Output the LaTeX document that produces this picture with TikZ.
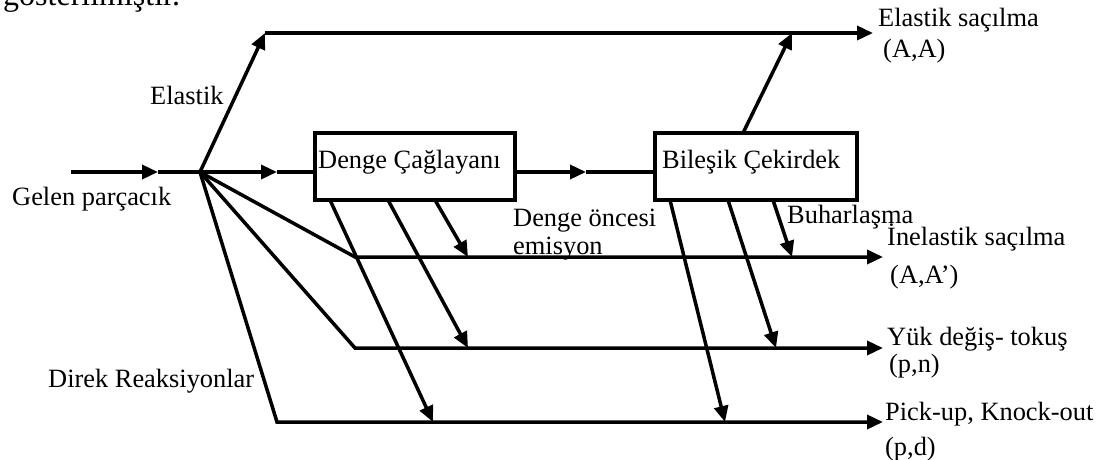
\documentclass[tikz,border=0pt]{standalone}
\usepackage{fontspec}
\setmainfont{Liberation Serif}
\usetikzlibrary{arrows.meta}
\begin{document}
\begin{tikzpicture}[x=1pt,y=-1pt,
  wire/.style={line width=3.5pt},
  arr/.style={wire,-{Triangle[length=16pt,width=14pt]}},
  procbox/.style={draw,line width=4pt,outer sep=0pt,inner sep=0pt},
  lbl/.style={anchor=base west,inner sep=0pt,font=\fontsize{26.4}{30}\selectfont},
  ]
\useasboundingbox (0,0) rectangle (1109,460);
\clip (0,0) rectangle (1109,460);

% running text of the page, cut at the top edge
\node[anchor=base west,inner sep=0pt,font=\fontsize{32}{36}\selectfont] (pagetext) at (3,6) {gösterilmiştir.};

% process boxes
\node[procbox,minimum width=200pt,minimum height=67pt] (cascade) at (415,166.5) {};
\node[procbox,minimum width=202pt,minimum height=67pt] (compound) at (756,166.5) {};
\node[lbl] (cascadeText) at (318,168) {Denge Çağlayanı};
\node[lbl] (compoundText) at (662,168) {Bileşik Çekirdek};

% key points
\coordinate (in) at (71,172);
\coordinate (a1) at (158,172);
\coordinate (j) at (200,172);
\coordinate (a2) at (277,172);
\coordinate (a3) at (586,172);
\coordinate (e1) at (265,33);
\coordinate (f1) at (355,257);
\coordinate (f2) at (355,348);
\coordinate (f3) at (277,422);
\coordinate (o1) at (873,33);
\coordinate (o2) at (883,257);
\coordinate (o3) at (883,348);
\coordinate (o4) at (883,422);

% incoming particle and main chain
\draw[arr] (in) -- (a1);
\draw[wire] (a1) -- (j);
\draw[arr] (j) -- (a2);
\draw[wire] (a2) -- (j -| cascade.west);
\draw[arr] (cascade.east |- j) -- (a3);
\draw[wire] (a3) -- (compound.west |- j);

% elastic channel
\draw[arr] (j) -- (e1);
\draw[arr] (e1) -- (o1);
\draw[arr] (compound.north west) ++(88,0) coordinate (c0) -- (792,33) coordinate (c0end);

% direct reactions
\draw[arr] (j) -- (f1) -- (o2);
\draw[arr] (j) -- (f2) -- (o3);
\draw[arr] (j) -- (f3) -- (o4);

% pre-equilibrium emission from the cascade
\draw[arr] ([xshift=120pt]cascade.south west) -- (468,257);
\draw[arr] ([xshift=73pt]cascade.south west) -- (468,348);
\draw[arr] ([xshift=15pt]cascade.south west) -- (433,422);

% evaporation from the compound nucleus
\draw[arr] ([xshift=118pt]compound.south west) -- (792,257);
\draw[arr] ([xshift=73pt]compound.south west) -- (776,348);
\draw[arr] ([xshift=15pt]compound.south west) -- (725,422);

% labels
\node[lbl] (lGelen) at (12,205) {Gelen parçacık};
\node[lbl] (lElastik) at (150,104) {Elastik};
\node[lbl] (lDirek) at (48,387) {Direk Reaksiyonlar};
\node[lbl] (lOnce1) at (513,226) {Denge öncesi};
\node[lbl] (lOnce2) at (513,254) {emisyon};
\node[lbl] (lBuhar) at (787,223) {Buharlaşma};

\node[lbl] (r1a) at (878,27) {Elastik saçılma};
\node[lbl] (r1b) at (883,58) {(A,A)};
\node[lbl] (r2a) at (887,245) {İnelastik saçılma};
\node[lbl] (r2b) at (890,283) {(A,A’)};
\node[lbl] (r3a) at (887,345) {Yük değiş- tokuş};
\node[lbl] (r3b) at (889,372) {(p,n)};
\node[lbl] (r4a) at (885,420) {Pick-up, Knock-out};
\node[lbl] (r4b) at (885,455) {(p,d)};
\end{tikzpicture}
\end{document}
